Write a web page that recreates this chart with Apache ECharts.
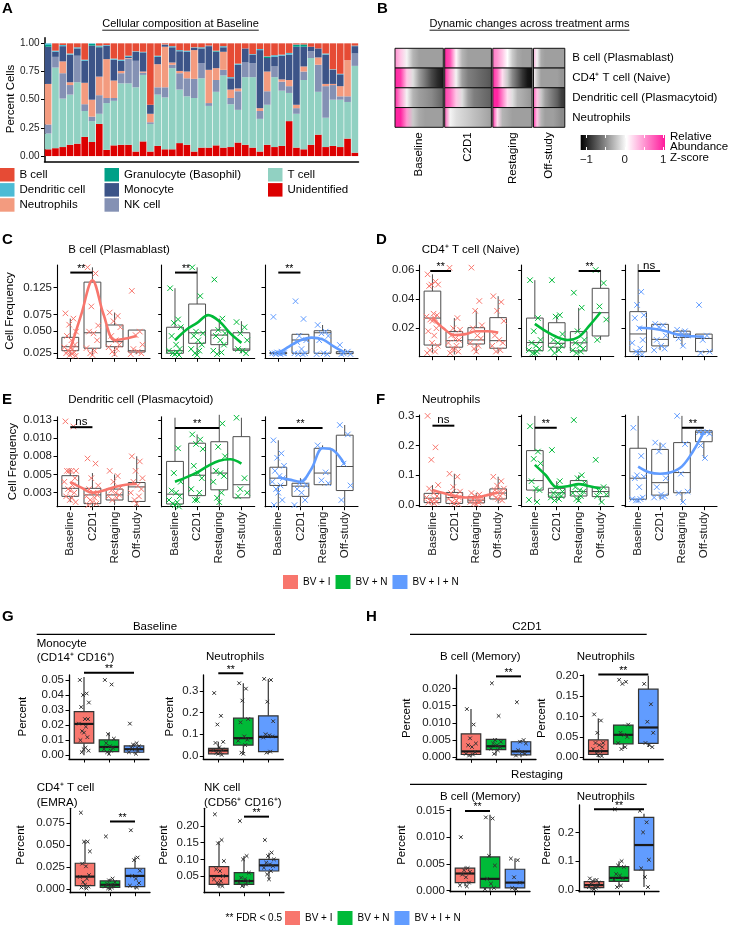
<!DOCTYPE html>
<html><head><meta charset="utf-8">
<script src="https://cdn.jsdelivr.net/npm/echarts@6/dist/echarts.min.js"></script>
<style>html,body{margin:0;padding:0;background:#fff}#chart{width:729px;height:926px}</style>
</head><body><div id="chart"></div>
<script>
// ======================= DATA =======================
const A_STACK_ORDER = ['Unidentified','T cell','NK cell','Neutrophils','Monocyte','Granulocyte (Basophil)','Dendritic cell','B cell'];
const A_CUMULATIVE = [
[0.06,0.20,0.28,0.64,0.97,0.985,1.0],[0.07,0.785,0.88,0.88,0.925,0.925,0.935],[0.08,0.51,0.735,0.84,0.975,0.975,0.985],
[0.10,0.545,0.63,0.655,0.90,0.90,0.91],[0.11,0.655,0.89,0.89,0.955,0.955,0.965],[0.17,0.40,0.46,0.65,0.845,0.845,0.855],
[0.125,0.31,0.35,0.50,0.98,0.995,1.0],[0.285,0.375,0.54,0.705,0.965,0.97,0.98],[0.055,0.47,0.515,0.86,0.98,0.98,0.985],
[0.095,0.49,0.515,0.67,0.855,0.855,0.865],[0.10,0.645,0.735,0.755,0.845,0.845,0.855],[0.10,0.645,0.865,0.87,0.88,0.88,0.89],
[0.04,0.61,0.845,0.845,0.925,0.925,0.93],[0.13,0.72,0.74,0.75,0.92,0.92,0.925],[0.04,0.285,0.30,0.375,0.455,0.455,0.455],
[0.09,0.545,0.61,0.815,0.88,0.88,0.89],[0.06,0.52,0.61,0.97,0.985,0.985,0.99],[0.06,0.78,0.81,0.83,0.965,0.965,0.975],
[0.115,0.59,0.735,0.755,0.93,0.93,0.94],[0.10,0.53,0.69,0.75,0.925,0.925,0.935],[0.04,0.515,0.685,0.94,0.96,0.96,0.965],
[0.075,0.69,0.825,0.825,0.955,0.955,0.965],[0.075,0.445,0.47,0.765,0.975,0.975,0.98],[0.095,0.57,0.675,0.78,0.925,0.93,0.935],
[0.075,0.715,0.765,0.925,0.965,0.965,0.975],[0.08,0.46,0.515,0.59,0.69,0.69,0.70],[0.12,0.41,0.575,0.60,0.81,0.81,0.82],
[0.10,0.70,0.83,0.83,0.955,0.955,0.955],[0.075,0.70,0.825,0.825,0.90,0.90,0.905],[0.04,0.33,0.40,0.425,0.94,0.94,0.95],
[0.10,0.455,0.575,0.75,0.87,0.88,0.885],[0.08,0.70,0.795,0.795,0.88,0.88,0.895],[0.09,0.58,0.66,0.68,0.89,0.89,0.90],
[0.31,0.56,0.62,0.675,0.90,0.90,0.915],[0.075,0.375,0.425,0.455,0.97,0.985,0.99],[0.06,0.675,0.75,0.795,0.97,0.99,0.99],
[0.10,0.87,0.93,0.93,0.97,0.97,0.97],[0.19,0.57,0.81,0.875,0.955,0.955,0.955],[0.08,0.34,0.62,0.64,0.90,0.90,0.91],
[0.09,0.50,0.63,0.64,0.765,0.765,0.77],[0.08,0.50,0.53,0.62,0.725,0.725,0.73],[0.155,0.48,0.53,0.85,0.85,0.85,0.85],
[0.03,0.80,0.91,0.91,0.975,0.975,0.98]];
const A_SAMPLES = A_CUMULATIVE.map((r, i) => 'S' + (i + 1));
const A_LEGEND_COLS = [['B cell','Dendritic cell','Neutrophils'],['Granulocyte (Basophil)','Monocyte','NK cell'],['T cell','Unidentified']];
const A_TICKS = [0, 0.25, 0.5, 0.75, 1];
const A_TICK_LABELS = ['0.00','0.25','0.50','0.75','1.00'];

const B_ROWS = ['B cell (Plasmablast)','CD4\u207A T cell (Naive)','Dendritic cell (Plasmacytoid)','Neutrophils'];
const B_COLS = ['Baseline','C2D1','Restaging','Off-study'];
const B_Z = [
 [[0.55,0.3,0.0,-0.3,-0.4,-0.4,-0.4,-0.4,-0.4],[1.0,0.8,0.1,-0.3,-0.4,-0.4,-0.4,-0.4,-0.4],[0.65,0.5,0.3,0.05,-0.2,-0.35,-0.4,-0.4,-0.4],[0.4,0.0,-0.35,-0.4,-0.4,-0.4,-0.4,-0.4,-0.4]],
 [[1.0,0.9,0.3,-0.1,-0.4,-0.6,-0.8,-0.95,-1.05],[1.0,0.5,0.0,-0.4,-0.55,-0.6,-0.65,-0.7,-0.75],[1.0,0.7,0.2,-0.2,-0.5,-0.7,-0.9,-1.05,-1.1],[0.1,-0.2,-0.4,-0.4,-0.4,-0.4,-0.4,-0.45,-0.45]],
 [[1.0,0.5,0.0,-0.3,-0.4,-0.45,-0.5,-0.6,-0.7],[0.9,0.7,0.3,-0.1,-0.4,-0.55,-0.6,-0.65,-0.7],[1.0,1.0,0.6,0.2,-0.1,-0.3,-0.35,-0.4,-0.45],[0.8,0.3,-0.2,-0.4,-0.5,-0.6,-0.7,-0.85,-0.9]],
 [[1.0,1.0,0.5,-0.2,-0.35,-0.4,-0.4,-0.4,-0.4],[0.8,0.0,-0.1,-0.15,-0.2,-0.25,-0.3,-0.35,-0.4],[1.0,0.2,-0.3,-0.35,-0.4,-0.4,-0.4,-0.4,-0.4],[1.0,0.3,-0.3,-0.4,-0.4,-0.4,-0.45,-0.5,-0.5]]];
const B_SCALE_MIN = -1.15, B_SCALE_MAX = 1.05;
const B_SCALE_TICKS = [-1, -0.5, 0, 0.5, 1];
const B_SCALE_LABEL_VALUES = [-1, 0, 1];
const B_SCALE_LABELS = ['\u22121', '0', '1'];

const ARMS = ['BV + I', 'BV + N', 'BV + I + N'];
const TIMEPOINTS = ['Baseline', 'C2D1', 'Restaging', 'Off-study'];
const SMOOTH_X = [1, 1.5, 2, 2.5, 3, 3.5, 4];

// Panel C is drawn on a square-root y scale
const C_BOX = [
 [[0.0226,0.0275,0.0316,0.0423,0.0684],[0.0226,0.0300,0.0481,0.1371,0.1716],[0.0226,0.0316,0.0372,0.0588,0.0782],[0.0242,0.0262,0.0275,0.0517,0.0519]],
 [[0.0234,0.025,0.0275,0.0556,0.124],[0.0234,0.0353,0.0481,0.093,0.1716],[0.0242,0.0338,0.0451,0.0517,0.0684],[0.025,0.0279,0.0292,0.0481,0.0644]],
 [[0.0242,0.0246,0.025,0.0258,0.0266],[0.0242,0.025,0.0391,0.0461,0.0473],[0.0242,0.025,0.0481,0.0508,0.0588],[0.0242,0.0246,0.025,0.0266,0.0292]]];
const C_PTS = [
 [[0.0768,0.0684,0.0593,0.0496,0.044,0.0388,0.0338,0.031,0.0292,0.0275,0.0266,0.0258,0.025,0.0242,0.0234,0.0226],[0.1716,0.1569,0.0887,0.058,0.0496,0.0473,0.0388,0.0301,0.0275,0.025,0.0234],[0.0782,0.0725,0.0644,0.0556,0.044,0.0388,0.0338,0.031,0.0292,0.0266,0.0242],[0.1185,0.0496,0.0451,0.0338,0.0292,0.0266,0.025,0.0242]],
 [[0.124,0.0671,0.0618,0.0556,0.044,0.0338,0.0292,0.0275,0.0258,0.025,0.0242,0.0234],[0.1716,0.1081,0.0496,0.0473,0.044,0.0388,0.0338,0.0292,0.0275,0.025,0.0234],[0.1429,0.0684,0.0519,0.0473,0.044,0.0388,0.0338,0.0275,0.0258,0.0242],[0.0631,0.0556,0.0473,0.0388,0.0292,0.0275,0.025]],
 [[0.0711,0.0266,0.0258,0.025,0.025,0.025,0.025,0.025,0.0242,0.0242],[0.0982,0.0678,0.044,0.0388,0.0367,0.0292,0.025,0.025,0.0242,0.0242],[0.0588,0.0496,0.0473,0.044,0.0388,0.025,0.0242,0.0242],[0.0335,0.0266,0.025,0.0242,0.0242]]];
const C_SMOOTH = [[0.0292,0.0754,0.1409,0.0754,0.0388,0.0408,0.044],[0.0388,0.0519,0.0618,0.0739,0.0644,0.0473,0.0358],[0.025,0.032,0.0388,0.0419,0.0398,0.032,0.0258]];
const C_SIG = [[1,2,0.159,'**'],[1,2,0.159,'**'],[1,2,0.159,'**']];
const C_TICKS = [0.025,0.05,0.075,0.125];
const C_TICK_LABELS = ['0.025','0.050','0.075','0.125'];

const D_BOX = [
 [[0.003,0.0085,0.027,0.0455,0.057],[0.002,0.007,0.0115,0.0177,0.027],[0.003,0.0092,0.012,0.0204,0.032],[0.003,0.0063,0.0115,0.0273,0.042]],
 [[0.002,0.0046,0.0102,0.027,0.053],[0.003,0.007,0.0097,0.0238,0.029],[0.003,0.0045,0.01,0.0177,0.034],[0.012,0.0147,0.0307,0.0474,0.06]],
 [[0.001,0.0039,0.0161,0.0314,0.064],[0.005,0.0079,0.0124,0.0227,0.023],[0.008,0.0137,0.016,0.018,0.019],[0.003,0.004,0.013,0.016,0.016]]];
const D_PTS = [
 [[0.057,0.052,0.05,0.05,0.049,0.03,0.029,0.028,0.027,0.026,0.025,0.02,0.018,0.015,0.01,0.008,0.005,0.004,0.003],[0.0615,0.027,0.02,0.019,0.015,0.013,0.012,0.01,0.008,0.006,0.005,0.004,0.003],[0.0616,0.0387,0.032,0.022,0.02,0.015,0.013,0.01,0.008,0.006,0.004],[0.042,0.038,0.032,0.025,0.015,0.012,0.01,0.008,0.005,0.004]],
 [[0.053,0.027,0.018,0.012,0.01,0.008,0.006,0.005,0.004,0.003,0.003],[0.053,0.029,0.028,0.016,0.012,0.01,0.008,0.006,0.005,0.003],[0.0444,0.0341,0.018,0.012,0.01,0.008,0.006,0.005,0.004,0.003],[0.06,0.051,0.035,0.026,0.012]],
 [[0.064,0.045,0.036,0.029,0.027,0.02,0.012,0.01,0.006,0.004,0.003,0.002],[0.023,0.022,0.021,0.015,0.012,0.008,0.006,0.005],[0.019,0.018,0.017,0.015,0.013,0.008],[0.036,0.015,0.012,0.004,0.003]]];
const D_SMOOTH = [[0.027,0.02,0.0154,0.016,0.018,0.018,0.017],[0.023,0.018,0.014,0.012,0.014,0.022,0.031],[0.0204,0.02,0.019,0.017,0.015,0.0145,0.0143]];
const D_SIG = [[0.9,1.85,0.0593,'**'],[3,4,0.0593,'**'],[1,2,0.0593,'ns']];
const D_TICKS = [0.02,0.04,0.06];
const D_TICK_LABELS = ['0.02','0.04','0.06'];

const E_BOX = [
 [[0.0012,0.002,0.0031,0.00484,0.0058],[0.0005,0.001,0.0022,0.0031,0.0052],[0.0008,0.0015,0.0022,0.003,0.005],[0.0005,0.0013,0.0033,0.0039,0.0075]],
 [[0.0005,0.00095,0.0023,0.0068,0.0128],[0.0015,0.0021,0.0049,0.0093,0.0105],[0.0005,0.0029,0.0052,0.0095,0.0132],[0.0018,0.0018,0.0036,0.0102,0.0128]],
 [[0.0005,0.0035,0.0045,0.006,0.0097],[0.0005,0.002,0.0034,0.0038,0.0045],[0.0035,0.0036,0.0052,0.0086,0.009],[0.0005,0.0028,0.0061,0.0104,0.0118]]];
const E_PTS = [
 [[0.0123,0.0116,0.0055,0.0055,0.0055,0.0055,0.0045,0.004,0.0035,0.003,0.0028,0.0025,0.002,0.0018,0.0015,0.0012],[0.0072,0.0065,0.0045,0.0035,0.003,0.0025,0.0022,0.002,0.0018,0.0015,0.0012,0.001,0.0008],[0.0055,0.0048,0.004,0.0032,0.0028,0.0025,0.0022,0.002,0.0018,0.0015],[0.0075,0.0068,0.0055,0.0045,0.004,0.0035,0.003,0.0025,0.002,0.0015,0.001]],
 [[0.013,0.0086,0.0052,0.004,0.0028,0.0025,0.002,0.0015,0.0012,0.001,0.0008,0.0006],[0.0105,0.0098,0.0092,0.0085,0.0062,0.0052,0.0045,0.003,0.0025,0.0015,0.0015],[0.013,0.012,0.0088,0.0075,0.0055,0.0052,0.0048,0.004,0.0025,0.0018,0.0012],[0.0128,0.0045,0.003,0.0025,0.002]],
 [[0.0097,0.0079,0.0073,0.0062,0.0055,0.0048,0.0045,0.004,0.0035,0.003,0.0025,0.0015,0.0008],[0.0134,0.004,0.0038,0.0035,0.003,0.0025,0.0015,0.0008],[0.009,0.0053,0.0042,0.0038],[0.0118,0.0105,0.0065,0.0035,0.0015]]];
const E_SMOOTH = [[0.0040,0.0032,0.0025,0.0028,0.0033,0.0036,0.0037],[0.0040,0.0046,0.0053,0.0062,0.0069,0.0071,0.0065],[0.0046,0.0043,0.0040,0.0058,0.0086,0.0083,0.0064]];
const E_SIG = [[1,2,0.0115,'ns'],[1,3,0.0114,'**'],[1,3,0.0114,'**']];
const E_TICKS = [0.0025,0.005,0.0075,0.01,0.0125];
const E_TICK_LABELS = ['0.003','0.005','0.008','0.010','0.013'];

const F_BOX = [
 [[0.0,0.0078,0.0225,0.039,0.067],[0.0,0.005,0.025,0.042,0.105],[0.0,0.007,0.016,0.028,0.04],[0.005,0.02,0.04,0.054,0.095]],
 [[0.01,0.05,0.082,0.183,0.3],[0.015,0.026,0.041,0.056,0.08],[0.01,0.03,0.045,0.082,0.1],[0.01,0.028,0.045,0.06,0.06]],
 [[0.01,0.019,0.09,0.191,0.3],[0.02,0.033,0.075,0.187,0.21],[0.01,0.041,0.109,0.21,0.3],[0.158,0.213,0.245,0.25,0.25]]];
const F_PTS = [
 [[0.3,0.194,0.152,0.067,0.055,0.04,0.03,0.025,0.02,0.015,0.012,0.01,0.008,0.005],[0.105,0.095,0.06,0.045,0.04,0.03,0.025,0.02,0.015,0.01,0.005,0.003],[0.04,0.035,0.03,0.025,0.02,0.016,0.012,0.01,0.008,0.005,0.003],[0.095,0.08,0.065,0.055,0.05,0.045,0.04,0.035,0.03,0.025,0.02,0.015]],
 [[0.265,0.18,0.155,0.14,0.08,0.055,0.05,0.017,0.01],[0.185,0.08,0.06,0.045,0.04,0.035,0.03,0.025,0.02,0.015],[0.286,0.1,0.09,0.075,0.06,0.05,0.045,0.04,0.03,0.02,0.015],[0.152,0.06,0.045,0.035,0.03,0.01]],
 [[0.26,0.165,0.1,0.095,0.09,0.06,0.025,0.02,0.02,0.015,0.015],[0.21,0.2,0.18,0.09,0.06,0.035,0.03,0.025,0.025],[0.3,0.205,0.105,0.045,0.04,0.01],[0.245,0.245,0.245,0.24,0.2,0.158]]];
const F_SMOOTH = [[0.05,0.04,0.03,0.025,0.025,0.033,0.042],[0.135,0.1,0.06,0.063,0.07,0.063,0.055],[0.129,0.11,0.105,0.11,0.13,0.18,0.245]];
const F_SIG = [[1,2,0.267,'ns'],[1,2,0.26,'**'],[3,4,0.26,'**']];
const F_TICKS = [0,0.1,0.2,0.3];
const F_TICK_LABELS = ['0.0','0.1','0.2','0.3'];

const G1_BOX = [[0.0,0.008,0.0208,0.029,0.052],[0.0,0.0024,0.0055,0.0102,0.015],[0.001,0.002,0.004,0.0062,0.008]];
const G1_PTS = [[0.05,0.041,0.04,0.035,0.032,0.024,0.024,0.021,0.019,0.016,0.015,0.012,0.01,0.005,0.004,0.003,0.002],[0.05,0.047,0.014,0.011,0.008,0.006,0.005,0.004,0.003,0.002,0.001],[0.021,0.008,0.007,0.006,0.005,0.004,0.003,0.002,0.001]];
const G1_SIG = [1,3,0.0548,'**'];
const G2_BOX = [[0.005,0.01,0.025,0.035,0.065],[0.01,0.05,0.082,0.174,0.335],[0.01,0.02,0.088,0.185,0.355]];
const G2_PTS = [[0.29,0.185,0.145,0.065,0.06,0.04,0.03,0.025,0.02,0.015,0.01,0.005],[0.335,0.31,0.255,0.17,0.155,0.09,0.075,0.07,0.05,0.015,0.01],[0.355,0.35,0.25,0.16,0.1,0.095,0.09,0.085,0.02,0.015]];
const G2_SIG = [1,2,0.381,'**'];
const G3_BOX = [[0.0,0.004,0.0143,0.0295,0.055],[0.0,0.002,0.005,0.0094,0.012],[0.0,0.003,0.0151,0.0238,0.037]];
const G3_PTS = [[0.087,0.054,0.054,0.043,0.029,0.026,0.016,0.014,0.012,0.008,0.005,0.003,0.002,0.001],[0.06,0.012,0.01,0.008,0.006,0.005,0.004,0.003,0.002,0.001,0.0005],[0.067,0.036,0.033,0.021,0.015,0.012,0.007,0.004,0.002]];
const G3_SIG = [2,3,0.077,'**'];
const G4_BOX = [[0.015,0.025,0.05,0.078,0.155],[0.015,0.025,0.035,0.06,0.11],[0.04,0.065,0.082,0.1,0.12]];
const G4_PTS = [[0.235,0.158,0.148,0.095,0.07,0.065,0.05,0.04,0.035,0.03,0.025,0.02],[0.215,0.11,0.1,0.06,0.045,0.04,0.035,0.03,0.025,0.02],[0.158,0.12,0.11,0.1,0.09,0.085,0.08,0.075,0.065,0.055,0.04]];
const G4_SIG = [2,3,0.228,'**'];
const H1_BOX = [[0.0,0.0008,0.0017,0.0068,0.014],[0.0005,0.0022,0.0032,0.0052,0.0055],[0.0,0.0007,0.0017,0.0045,0.005]];
const H1_PTS = [[0.014,0.0095,0.0055,0.004,0.0035,0.003,0.0015,0.001,0.0008,0.0005],[0.0215,0.012,0.005,0.0045,0.004,0.0035,0.003,0.0025,0.002,0.001],[0.016,0.005,0.0045,0.004,0.002,0.0015,0.001,0.0005]];
const H1_SIG = [2,3,0.0235,'**'];
const H2_BOX = [[0.0,0.007,0.015,0.0424,0.095],[0.02,0.033,0.055,0.079,0.08],[0.025,0.034,0.073,0.167,0.2]];
const H2_PTS = [[0.105,0.09,0.06,0.035,0.035,0.03,0.025,0.02,0.015,0.01,0.005,0.003],[0.19,0.185,0.18,0.08,0.06,0.055,0.05,0.035,0.025,0.02],[0.18,0.13,0.087,0.06,0.035,0.03,0.025]];
const H2_SIG = [1,3,0.203,'**'];
const H3_BOX = [[0.0008,0.0015,0.0032,0.0042,0.0045],[0.0,0.0005,0.0022,0.0063,0.0142],[0.0,0.0005,0.0015,0.004,0.006]];
const H3_PTS = [[0.01,0.0042,0.0038,0.0035,0.003,0.0025,0.0015,0.001,0.0008],[0.0137,0.0135,0.0065,0.0047,0.0022,0.0013,0.0005,0.0003],[0.006,0.0057,0.0025,0.0015,0.0005,0.0003]];
const H3_SIG = [1,2,0.0149,'**'];
const H4_BOX = [[0.002,0.008,0.017,0.029,0.04],[0.01,0.03,0.042,0.081,0.1],[0.01,0.069,0.156,0.252,0.265]];
const H4_PTS = [[0.04,0.035,0.03,0.025,0.02,0.015,0.012,0.01,0.008,0.005,0.003],[0.28,0.1,0.085,0.08,0.055,0.05,0.04,0.035,0.015,0.01],[0.275,0.235,0.2,0.105,0.075,0.045,0.01]];
const H4_SIG = [1,3,0.28,'**'];

// ======================= STYLE / LAYOUT =======================
const FONT = '"Liberation Sans", Arial, Helvetica, sans-serif';
const A_COLORS = {'B cell':'#E64B35','Dendritic cell':'#4DBBD5','Granulocyte (Basophil)':'#00A087','Monocyte':'#3C5488',
  'Neutrophils':'#F39B7F','NK cell':'#8491B4','T cell':'#91D1C2','Unidentified':'#DC0000'};
const ARM_COLORS = ['#F8766D', '#00BA38', '#619CFF'];
const JITTER = [-0.22,0.14,-0.05,0.26,-0.15,0.05,0.21,-0.27,0.1,-0.1,0.0,0.18,-0.19,0.08,-0.02,0.24,-0.12,0.12,-0.24,0.03];
const XPATH = 'path://M0,0L10,10M0,10L10,0';
const B_LAYOUT = {left:395, top:48.3, height:79, widths:[48.3,46.7,39.3,31.3], gap:1.4};
const B_COLOR_STOPS = [[-1.15,[0,0,0]],[0.05,[255,255,255]],[1.05,[255,26,156]]];
const IDENT = v => v;

const option = {animation:false, backgroundColor:'#fff', textStyle:{fontFamily:FONT},
  grid:[], xAxis:[], yAxis:[], series:[], legend:[], graphic:[]};

function addGrid(r) {
  option.grid.push({left:r.left, top:r.top, width:r.width, height:r.height, containLabel:false, outerBoundsMode:'none'});
  return option.grid.length - 1;
}
function mkAxis(o) {
  const lt = o.labelTicks || o.ticks || [];
  const fmt = v => { const i = lt.findIndex(t => Math.abs(t - v) < 1e-9); return (i >= 0 && o.labels) ? o.labels[i] : ''; };
  return {
    type:'value', min:o.min, max:o.max, position:o.position, z:o.z || 0, show:o.show !== false,
    axisLine:{show:o.showLine !== false, onZero:false, lineStyle:{color:'#000', width:o.lineWidth || 1.1}},
    axisTick:{show:!!(o.ticks && o.ticks.length), customValues:o.ticks, length:o.tickLen || 3.5, inside:!!o.inside,
      lineStyle:{color:o.tickColor || '#000', width:o.tickWidth || 1}},
    axisLabel:{show:!!o.labels, customValues:lt, formatter:fmt, rotate:o.rotate || 0, margin:o.margin || 5,
      fontSize:o.fontSize || 11.5, color:'#1a1a1a', fontFamily:FONT},
    splitLine:{show:false}, splitArea:{show:false}
  };
}
function addAxes(gi, xa, ya) {
  option.xAxis.push(Object.assign({gridIndex:gi}, xa));
  option.yAxis.push(Object.assign({gridIndex:gi}, ya));
  return {xi:option.xAxis.length - 1, yi:option.yAxis.length - 1};
}
function boxSeries(ax, boxes, color, st, name, xs, tf) {
  tf = tf || IDENT;
  return {type:'custom', name, xAxisIndex:ax.xi, yAxisIndex:ax.yi, silent:true, z:2, clip:false,
    encode:{x:0, y:[1,2,3,4,5]},
    data:boxes.map((b, i) => [xs ? xs[i] : i + 1].concat(b.map(tf))),
    renderItem:(p, api) => {
      const x = api.value(0);
      const lo = api.coord([x, api.value(1)]), q1 = api.coord([x, api.value(2)]), md = api.coord([x, api.value(3)]),
            q3 = api.coord([x, api.value(4)]), hi = api.coord([x, api.value(5)]);
      const w = api.size([st.width, 0])[0], cx = md[0];
      const ls = {stroke:st.stroke, lineWidth:st.lw};
      return {type:'group', children:[
        {type:'line', shape:{x1:cx, y1:q3[1], x2:cx, y2:hi[1]}, style:ls},
        {type:'line', shape:{x1:cx, y1:q1[1], x2:cx, y2:lo[1]}, style:ls},
        {type:'rect', shape:{x:cx - w / 2, y:q3[1], width:w, height:q1[1] - q3[1]},
          style:{fill:st.fill || color, stroke:st.stroke, lineWidth:st.lw}},
        {type:'line', shape:{x1:cx - w / 2, y1:md[1], x2:cx + w / 2, y2:md[1]}, style:{stroke:st.medStroke, lineWidth:st.medLw}}
      ]};
    }};
}
function pointSeries(ax, pts, color, size, jw, name, tf) {
  tf = tf || IDENT;
  const data = [];
  pts.forEach((arr, ti) => (arr || []).forEach((v, k) => data.push([ti + 1 + JITTER[k % JITTER.length] * jw, tf(v)])));
  return {type:'scatter', name, xAxisIndex:ax.xi, yAxisIndex:ax.yi, silent:true, z:3, symbol:XPATH, symbolSize:size,
    itemStyle:{color:'rgba(0,0,0,0)', borderColor:color, borderWidth:1, opacity:1}, data};
}
function smoothSeries(ax, vals, color, tf) {
  tf = tf || IDENT;
  return {type:'line', xAxisIndex:ax.xi, yAxisIndex:ax.yi, silent:true, z:4, smooth:0.35, symbol:'none', showSymbol:false,
    lineStyle:{color, width:2.6}, data:SMOOTH_X.map((x, i) => [x, tf(vals[i])])};
}
function sigSeries(ax, sig, fs, tf) {
  tf = tf || IDENT;
  return {type:'custom', xAxisIndex:ax.xi, yAxisIndex:ax.yi, silent:true, z:5, clip:false,
    data:[[sig[0], sig[1], tf(sig[2])]],
    renderItem:(p, api) => {
      const a = api.coord([api.value(0), api.value(2)]), b = api.coord([api.value(1), api.value(2)]);
      return {type:'group', children:[
        {type:'line', shape:{x1:a[0], y1:a[1], x2:b[0], y2:b[1]}, style:{stroke:'#000', lineWidth:2}},
        {type:'text', x:(a[0] + b[0]) / 2, y:a[1] + (sig[3] === '**' ? 2 : 0.5),
          style:{text:sig[3], fill:'#000', font:(fs || 10.5) + 'px ' + FONT, align:'center', verticalAlign:'bottom',
            textAlign:'center', textVerticalAlign:'bottom'}}
      ]};
    }};
}
function txt(text, x, y, o) {
  o = o || {};
  const al = o.align || 'left', va = o.va || 'middle';
  option.graphic.push({type:'text', x, y, rotation:o.rot || 0, z:100, silent:true,
    style:{text, fill:'#000', font:(o.bold ? 'bold ' : '') + (o.size || 11.5) + 'px ' + FONT,
      align:al, verticalAlign:va, textAlign:al, textVerticalAlign:va}});
}
function hline(x1, x2, y, w) {
  option.graphic.push({type:'line', z:100, silent:true, shape:{x1, y1:y, x2, y2:y}, style:{stroke:'#000', lineWidth:w || 1.2}});
}
const _ctx = document.createElement('canvas').getContext('2d');
function textWidth(t, size) { _ctx.font = size + 'px ' + FONT; return _ctx.measureText(t).width; }
function zColor(z) {
  const s = B_COLOR_STOPS;
  if (z <= s[0][0]) return 'rgb(' + s[0][1].join(',') + ')';
  for (let i = 1; i < s.length; i++) {
    if (z <= s[i][0]) {
      const t = (z - s[i - 1][0]) / (s[i][0] - s[i - 1][0]);
      const c = s[i - 1][1].map((v, k) => Math.round(v + (s[i][1][k] - v) * t));
      return 'rgb(' + c.join(',') + ')';
    }
  }
  return 'rgb(' + s[s.length - 1][1].join(',') + ')';
}

// ======================= PANEL A =======================
{
  const gi = addGrid({left:44.5, top:37.7, width:314, height:124});
  option.xAxis.push({gridIndex:gi, type:'category', data:A_SAMPLES, boundaryGap:true,
    axisLine:{show:true, onZero:false, lineStyle:{color:'#000', width:1.5}}, axisTick:{show:false}, axisLabel:{show:false}, splitLine:{show:false}});
  option.yAxis.push(Object.assign({gridIndex:gi}, mkAxis({min:-0.05, max:1.05, ticks:A_TICKS, labels:A_TICK_LABELS, fontSize:10, lineWidth:1.5})));
  const xi = option.xAxis.length - 1, yi = option.yAxis.length - 1;
  A_STACK_ORDER.forEach((name, s) => {
    const data = A_CUMULATIVE.map(row => {
      const top = s < 7 ? row[s] : 1, bot = s > 0 ? row[s - 1] : 0;
      return +(top - bot).toFixed(4);
    });
    option.series.push({type:'bar', name, stack:'comp', xAxisIndex:xi, yAxisIndex:yi, silent:true, data,
      barCategoryGap:'9%', itemStyle:{color:A_COLORS[name]}});
  });
  const lefts = [0, 104.5, 268];
  A_LEGEND_COLS.forEach((col, i) => option.legend.push({orient:'vertical', left:lefts[i], top:168, padding:0,
    itemWidth:14.5, itemHeight:13.5, itemGap:1.6, selectedMode:false, icon:'rect',
    textStyle:{fontSize:11.5, color:'#000', fontFamily:FONT},
    data:col.map(n => ({name:n, icon:'rect', itemStyle:{color:A_COLORS[n], borderWidth:0}}))}));
  txt('A', 2, 9, {bold:true, size:15});
  const t = 'Cellular composition at Baseline', w = textWidth(t, 11);
  txt(t, 180.5, 24, {align:'center', size:11});
  hline(180.5 - w / 2, 180.5 + w / 2, 30.2, 0.9);
  txt('Percent Cells', 11, 99, {align:'center', rot:Math.PI / 2, size:11.5});
}

// ======================= PANEL B =======================
{
  const L = B_LAYOUT;
  const starts = [];
  let acc = 0;
  L.widths.forEach((w, i) => { starts.push(acc); acc += w + (i < L.widths.length - 1 ? L.gap : 0); });
  const total = acc;
  const centers = L.widths.map((w, i) => starts[i] + w / 2);
  const gi = addGrid({left:L.left, top:L.top, width:total, height:L.height});
  option.xAxis.push({gridIndex:gi, type:'value', min:0, max:total,
    axisLine:{show:false}, axisTick:{show:false}, splitLine:{show:false},
    axisLabel:{show:true, customValues:centers, rotate:90, margin:5, fontSize:11.5, color:'#000', fontFamily:FONT,
      formatter:v => { const i = centers.findIndex(c => Math.abs(c - v) < 1e-6); return i >= 0 ? B_COLS[i] : ''; }}});
  option.yAxis.push({gridIndex:gi, type:'category', data:B_ROWS, inverse:true, position:'right',
    axisLine:{show:false}, axisTick:{show:false}, splitLine:{show:false},
    axisLabel:{show:true, margin:7.5, fontSize:11.5, color:'#000', fontFamily:FONT}});
  const xi = option.xAxis.length - 1, yi = option.yAxis.length - 1;
  const cells = [];
  B_Z.forEach((row, r) => row.forEach((vals, c) => cells.push({value:[starts[c], starts[c] + L.widths[c], r], z:vals})));
  option.series.push({type:'custom', xAxisIndex:xi, yAxisIndex:yi, silent:true, z:2,
    encode:{x:[0,1], y:2}, data:cells.map(c => c.value),
    renderItem:(p, api) => {
      const r = api.value(2);
      const a = api.coord([api.value(0), r]), b = api.coord([api.value(1), r]);
      const h = api.size([0, 1])[1];
      const zs = cells[p.dataIndex].z;
      const stops = zs.map((z, k) => ({offset:k / (zs.length - 1), color:zColor(z)}));
      return {type:'rect', shape:{x:a[0], y:a[1] - h / 2, width:b[0] - a[0], height:h},
        style:{fill:new echarts.graphic.LinearGradient(0, 0, 1, 0, stops), stroke:'#111', lineWidth:1}};
    }});
  const cg = addGrid({left:580.7, top:135, width:84.3, height:15});
  option.xAxis.push(Object.assign({gridIndex:cg}, mkAxis({min:B_SCALE_MIN, max:B_SCALE_MAX, ticks:B_SCALE_TICKS,
    labelTicks:B_SCALE_LABEL_VALUES, labels:B_SCALE_LABELS, showLine:false, inside:true, tickColor:'#fff', tickLen:3, z:10, margin:4})));
  const cxi = option.xAxis.length - 1;
  option.xAxis.push(Object.assign({gridIndex:cg}, mkAxis({min:B_SCALE_MIN, max:B_SCALE_MAX, ticks:B_SCALE_TICKS,
    position:'top', showLine:false, inside:true, tickColor:'#fff', tickLen:3, z:10})));
  option.yAxis.push({gridIndex:cg, type:'value', min:0, max:1, show:false});
  const cyi = option.yAxis.length - 1;
  option.series.push({type:'custom', xAxisIndex:cxi, yAxisIndex:cyi, silent:true, z:1,
    data:[[B_SCALE_MIN, B_SCALE_MAX]],
    renderItem:(p, api) => {
      const a = api.coord([api.value(0), 0]), b = api.coord([api.value(1), 1]);
      const stops = B_COLOR_STOPS.map(s => ({offset:(s[0] - B_SCALE_MIN) / (B_SCALE_MAX - B_SCALE_MIN), color:'rgb(' + s[1].join(',') + ')'}));
      return {type:'rect', shape:{x:a[0], y:b[1], width:b[0] - a[0], height:a[1] - b[1]},
        style:{fill:new echarts.graphic.LinearGradient(0, 0, 1, 0, stops)}};
    }});
  txt('Relative', 670, 136.5); txt('Abundance', 670, 147.3); txt('Z-score', 670, 158.2);
  txt('B', 377, 9, {bold:true, size:15});
  const t = 'Dynamic changes across treatment arms', w = textWidth(t, 11);
  txt(t, 529.5, 24, {align:'center', size:11});
  hline(529.5 - w / 2, 529.5 + w / 2, 30.2, 0.9);
}

// ======================= PANELS C-F =======================
const CF_BOX_STYLE = {fill:'rgba(255,255,255,0)', stroke:'#4d4d4d', lw:1, medStroke:'#4d4d4d', medLw:1, width:0.76};
function facetPanel(box, pts, smooth, sig, lay, y, showX) {
  const tf = y.tf || IDENT;
  box.forEach((armBoxes, a) => {
    const gi = addGrid({left:lay.lefts[a], top:lay.top, width:lay.width, height:lay.bottom - lay.top});
    const ax = addAxes(gi,
      mkAxis({min:0.4, max:4.6, ticks:[1,2,3,4], labels:showX ? TIMEPOINTS : null, rotate:90, margin:5}),
      mkAxis({min:tf(y.min), max:tf(y.max), ticks:y.ticks.map(tf), labels:a === 0 ? y.labels : null}));
    option.series.push(boxSeries(ax, armBoxes, ARM_COLORS[a], CF_BOX_STYLE, ARMS[a], null, tf));
    option.series.push(pointSeries(ax, pts[a], ARM_COLORS[a], 5.5, 1, ARMS[a], tf));
    option.series.push(smoothSeries(ax, smooth[a], ARM_COLORS[a], tf));
    option.series.push(sigSeries(ax, sig[a], sig[a][3] === 'ns' ? 11.5 : 10.5, tf));
  });
}
facetPanel(C_BOX, C_PTS, C_SMOOTH, C_SIG, {lefts:[57,161.7,265], width:93, top:265, bottom:358.3},
  {min:0.0205, max:0.1775, ticks:C_TICKS, labels:C_TICK_LABELS, tf:Math.sqrt}, false);
facetPanel(D_BOX, D_PTS, D_SMOOTH, D_SIG, {lefts:[419.3,521.7,625], width:92, top:265, bottom:356.7},
  {min:0.0005, max:0.0634, ticks:D_TICKS, labels:D_TICK_LABELS}, false);
facetPanel(E_BOX, E_PTS, E_SMOOTH, E_SIG, {lefts:[57,161.7,265], width:93, top:416.7, bottom:506.7},
  {min:0.00058, max:0.01294, ticks:E_TICKS, labels:E_TICK_LABELS}, true);
facetPanel(F_BOX, F_PTS, F_SMOOTH, F_SIG, {lefts:[419.3,521.7,625], width:92, top:415, bottom:506.7},
  {min:-0.006, max:0.303, ticks:F_TICKS, labels:F_TICK_LABELS}, true);
txt('C', 2, 240, {bold:true, size:15}); txt('D', 376, 240, {bold:true, size:15});
txt('E', 2, 400, {bold:true, size:15}); txt('F', 376, 400, {bold:true, size:15});
txt('B cell (Plasmablast)', 68.3, 250); txt('CD4\u207A T cell (Naive)', 421.7, 250);
txt('Dendritic cell (Plasmacytoid)', 68.3, 400); txt('Neutrophils', 422, 400);
txt('Cell Frequency', 9.5, 311, {align:'center', rot:Math.PI / 2});
txt('Cell Frequency', 12.5, 461.7, {align:'center', rot:Math.PI / 2});

const ARM_LEGEND_DATA = ARMS.map((a, i) => ({name:a, icon:'rect', itemStyle:{color:ARM_COLORS[i], borderWidth:0, opacity:1}}));
option.legend.push({orient:'horizontal', left:283, top:575, padding:0, itemWidth:15, itemHeight:14, itemGap:5,
  selectedMode:false, textStyle:{fontSize:10, color:'#000', fontFamily:FONT}, data:ARM_LEGEND_DATA});

// ======================= PANELS G-H =======================
const GH_BOX_STYLE = {fill:null, stroke:'#333', lw:1.2, medStroke:'#1a1a1a', medLw:2.2, width:0.78};
function ghPanel(box, pts, sig, rect, y) {
  const gi = addGrid(rect);
  const ax = addAxes(gi,
    mkAxis({min:0.4, max:3.6, ticks:[1,2,3], lineWidth:1.3}),
    mkAxis({min:y.min, max:y.max, ticks:y.ticks, labels:y.labels, lineWidth:1.3}));
  box.forEach((b, a) => {
    option.series.push(boxSeries(ax, [b], ARM_COLORS[a], GH_BOX_STYLE, ARMS[a], [a + 1]));
    const p = [[], [], []]; p[a] = pts[a];
    option.series.push(pointSeries(ax, p, '#303030', 3.6, 0.75, ARMS[a]));
  });
  option.series.push(sigSeries(ax, sig, 10.5));
}
ghPanel(G1_BOX, G1_PTS, G1_SIG, {left:69, top:675, width:80, height:84},
  {min:-0.0025, max:0.0533, ticks:[0,0.01,0.02,0.03,0.04,0.05], labels:['0.00','0.01','0.02','0.03','0.04','0.05']});
ghPanel(G2_BOX, G2_PTS, G2_SIG, {left:203.3, top:675, width:80, height:84},
  {min:-0.014, max:0.373, ticks:[0,0.1,0.2,0.3], labels:['0.0','0.1','0.2','0.3']});
ghPanel(G3_BOX, G3_PTS, G3_SIG, {left:70, top:808.3, width:80, height:84.4},
  {min:-0.004, max:0.092, ticks:[0,0.025,0.05,0.075], labels:['0.000','0.025','0.050','0.075']});
ghPanel(G4_BOX, G4_PTS, G4_SIG, {left:204, top:808.3, width:80, height:84.4},
  {min:0, max:0.253, ticks:[0.05,0.1,0.15,0.2], labels:['0.05','0.10','0.15','0.20']});
ghPanel(H1_BOX, H1_PTS, H1_SIG, {left:456, top:675, width:80, height:84.3},
  {min:-0.0006, max:0.0239, ticks:[0,0.005,0.01,0.015,0.02], labels:['0.000','0.005','0.010','0.015','0.020']});
ghPanel(H2_BOX, H2_PTS, H2_SIG, {left:583.3, top:675, width:80, height:84.3},
  {min:-0.005, max:0.2017, ticks:[0,0.05,0.1,0.15,0.2], labels:['0.00','0.05','0.10','0.15','0.20']});
ghPanel(H3_BOX, H3_PTS, H3_SIG, {left:450, top:808.3, width:80, height:83.4},
  {min:-0.0002, max:0.0154, ticks:[0,0.005,0.01,0.015], labels:['0.000','0.005','0.010','0.015']});
ghPanel(H4_BOX, H4_PTS, H4_SIG, {left:579, top:805, width:80, height:86.7},
  {min:-0.006, max:0.295, ticks:[0,0.1,0.2], labels:['0.0','0.1','0.2']});

txt('G', 2, 617, {bold:true, size:15}); txt('H', 366, 617, {bold:true, size:15});
txt('Baseline', 155, 626.7, {align:'center'}); hline(36.7, 275, 634.3, 1.3);
txt('C2D1', 527, 626.7, {align:'center'}); hline(410, 646.7, 634.3, 1.3);
txt('Restaging', 537, 775, {align:'center'}); hline(410, 646.7, 784.3, 1.3);
txt('Monocyte', 36.7, 644); txt('(CD14\u207A CD16\u207A)', 36.7, 658.3);
txt('Neutrophils', 206, 656.7);
txt('CD4\u207A T cell', 36.7, 788.3); txt('(EMRA)', 36.7, 802.7);
txt('NK cell', 204, 788.3); txt('(CD56\u207A CD16\u207A)', 204, 802.7);
txt('B cell (Memory)', 440, 656.7); txt('Neutrophils', 576.7, 656.7);
txt('B cell (Memory)', 440, 796.7); txt('Neutrophils', 576.7, 796.7);
[[23.3,716.7],[170,716.7],[20.7,845],[164,845],[406.7,718.3],[541.7,718.3],[401.7,845],[546.7,845]].forEach(p =>
  txt('Percent', p[0], p[1], {align:'center', rot:Math.PI / 2}));
txt('** FDR < 0.5', 282, 918, {align:'right', size:10});
option.legend.push({orient:'horizontal', left:285, top:911, padding:0, itemWidth:15, itemHeight:14, itemGap:5,
  selectedMode:false, textStyle:{fontSize:10, color:'#000', fontFamily:FONT}, data:ARM_LEGEND_DATA});

const chart = echarts.init(document.getElementById('chart'), null, {renderer:'canvas', width:729, height:926});
chart.setOption(option);
</script>
</body></html>
